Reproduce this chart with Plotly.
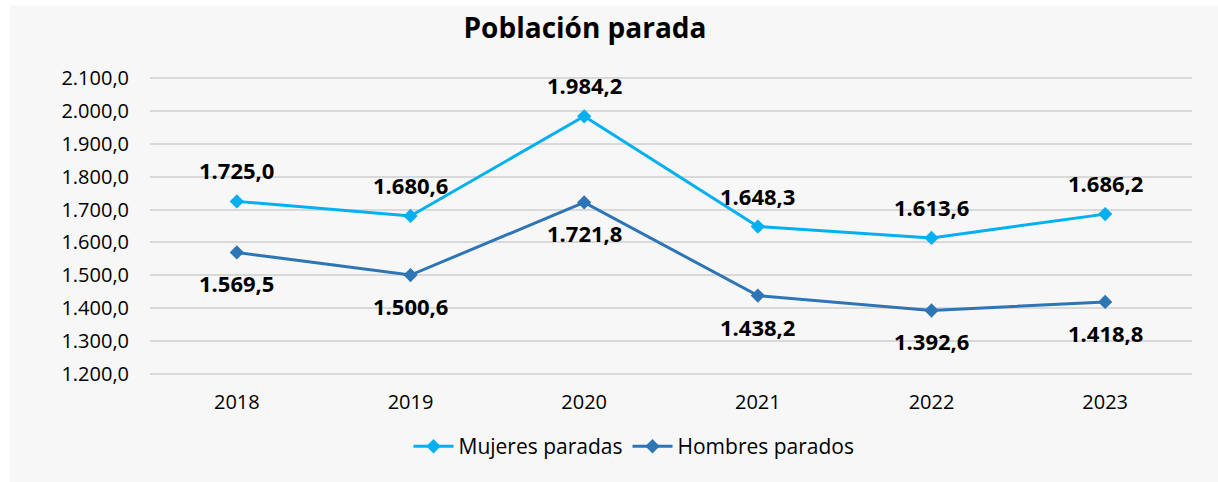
import plotly.graph_objects as go

years = ["2018", "2019", "2020", "2021", "2022", "2023"]
mujeres = [1725.0, 1680.6, 1984.2, 1648.3, 1613.6, 1686.2]
hombres = [1569.5, 1500.6, 1721.8, 1438.2, 1392.6, 1418.8]
names = ["Mujeres paradas", "Hombres parados"]
colors = ["#00b0f0", "#2e75b6"]
tickvals = [1200, 1300, 1400, 1500, 1600, 1700, 1800, 1900, 2000, 2100]

FONT = "Open Sans"

def fmt(v):
    s = f"{v:,.1f}"
    return s.replace(",", "X").replace(".", ",").replace("X", ".")

fig = go.Figure()
for name, vals, col in zip(names, [mujeres, hombres], colors):
    fig.add_trace(go.Scatter(
        x=years, y=vals, name=name, mode="lines+markers",
        line=dict(color=col, width=3),
        marker=dict(symbol="diamond", size=11, color=col),
        hoverinfo="skip",
    ))

lab_font = dict(family=FONT, size=22, color="#000000", weight="bold")
annotations = []
for i, v in enumerate(mujeres):
    annotations.append(dict(x=i, y=v, xref="x", yref="y", text=fmt(v), showarrow=False,
                            yshift=31, font=lab_font))
for i, v in enumerate(hombres):
    annotations.append(dict(x=i, y=v, xref="x", yref="y", text=fmt(v), showarrow=False,
                            yshift=-31, font=lab_font))

# body margin is removed by post_script, so figure pixels == window pixels
OFF = 0
W, H = 1218, 482
PL, PR, PT, PB = 150, 1192, 78, 374   # window pixels of plot area / 2100..1200 lines
Y0, Y1 = 1190, 2110
ppu = (PB - PT) / 900.0
top_px = PT - (Y1 - 2100) * ppu
bot_px = PB + (1200 - Y0) * ppu
L = PL - OFF
T = top_px - OFF
pw = PR - PL
ph = bot_px - top_px
R = W - L - pw
B = H - T - ph

def px2paper_x(px):
    return (px - OFF - L) / pw

def px2paper_y(py):
    return (bot_px - py) / ph

fig.update_layout(
    width=W, height=H,
    margin=dict(l=L, r=R, t=T, b=B, autoexpand=False),
    paper_bgcolor="#f7f7f7",
    plot_bgcolor="rgba(0,0,0,0)",
    separators=",.",
    hovermode=False,
    title=dict(text="<b>Población parada</b>", x=px2paper_x(585), xref="paper", xanchor="center",
               y=1 - (28 - OFF) / H, yanchor="middle",
               font=dict(family=FONT, size=28, color="#000000")),
    xaxis=dict(type="category", range=[-0.5, 5.5], showgrid=False, zeroline=False, showline=False,
               ticks="", ticklabelstandoff=11,
               tickfont=dict(family=FONT, size=20, color="#000000")),
    yaxis=dict(range=[Y0, Y1], tickvals=tickvals, tickformat=",.1f",
               showgrid=True, gridcolor="#d9d9d9", gridwidth=2, zeroline=False,
               showline=False, ticks="", ticklabelstandoff=20,
               tickfont=dict(family=FONT, size=20, color="#000000")),
    legend=dict(orientation="h", x=px2paper_x(634), xanchor="center",
                y=px2paper_y(447), yanchor="middle",
                font=dict(family=FONT, size=21, color="#000000"),
                bgcolor="rgba(0,0,0,0)", itemwidth=40),
    annotations=annotations,
    shapes=[
        dict(type="rect", xref="paper", yref="paper", layer="below",
             x0=px2paper_x(-5), x1=px2paper_x(10), y0=px2paper_y(490), y1=px2paper_y(-5),
             fillcolor="#ffffff", line=dict(width=0)),
        dict(type="rect", xref="paper", yref="paper", layer="below",
             x0=px2paper_x(-5), x1=px2paper_x(1230), y0=px2paper_y(5), y1=px2paper_y(-5),
             fillcolor="#ffffff", line=dict(width=0)),
    ],
    showlegend=True,
)

fig.write_html(
    "out.html",
    config={"displayModeBar": False},
    post_script=(
        "document.body.style.margin='0';"
        "document.body.style.overflow='hidden';"
        "document.body.style.background='#f7f7f7';"
        "document.documentElement.style.background='#f7f7f7';"
    ),
)
